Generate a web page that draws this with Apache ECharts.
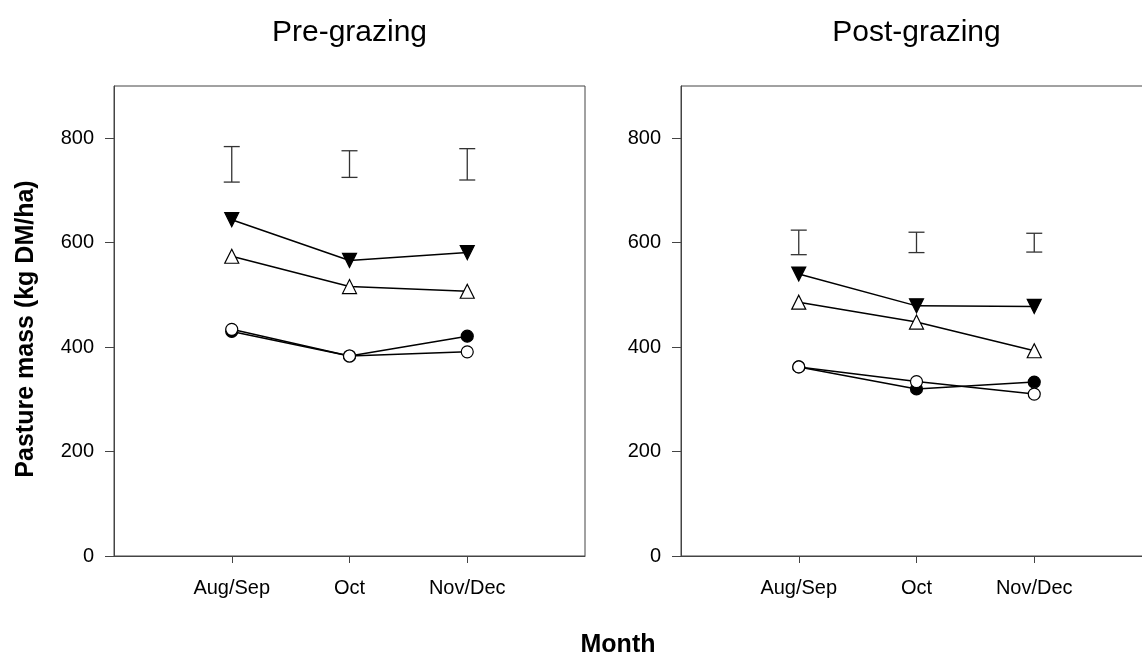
<!DOCTYPE html>
<html>
<head>
<meta charset="utf-8">
<script src="https://cdn.jsdelivr.net/npm/echarts@6/dist/echarts.min.js"></script>
<style>
html,body{margin:0;padding:0;background:#fff;overflow:hidden;width:1142px;height:656px;}
#c{width:1160px;height:656px;}
</style>
</head>
<body>
<div id="c"></div>
<script>
// ---- data ----
const months = ['Aug/Sep', 'Oct', 'Nov/Dec'];
const yTicks = [0, 200, 400, 600, 800];
const panelTitles = ['Pre-grazing', 'Post-grazing'];

// Pre-grazing
const preFilledTri = [644, 566, 581];
const preOpenTri   = [574, 516, 507];
const preFilledCir = [430, 383, 421];
const preOpenCir   = [434, 383, 391];
const preErrLow    = [716, 725, 720];
const preErrHigh   = [784, 776, 780];

// Post-grazing
const postFilledTri = [540, 479, 478];
const postOpenTri   = [486, 448, 393];
const postFilledCir = [362, 320, 333];
const postOpenCir   = [362, 334, 310];
const postErrLow    = [577, 581, 582];
const postErrHigh   = [624, 620, 618];

// ---- chart ----
const FONT = '"Liberation Sans", Arial, sans-serif';
const AX = '#444';
const cats = [''].concat(months, ['']);

function xAxis(gi) {
  return {
    type: 'category', gridIndex: gi, data: cats, boundaryGap: false,
    axisLine: { show: true, lineStyle: { color: AX, width: 1 } },
    axisTick: { show: true, length: 7, lineStyle: { color: AX },
      interval: function (idx) { return idx >= 1 && idx <= months.length; } },
    axisLabel: { interval: 0, margin: 22, color: '#000', fontSize: 20, fontFamily: FONT },
    splitLine: { show: false }
  };
}
function yAxis(gi) {
  return {
    type: 'value', gridIndex: gi, min: 0, max: 900,
    axisLine: { show: true, lineStyle: { color: AX, width: 1 } },
    axisTick: { show: true, length: 9, lineStyle: { color: AX }, customValues: yTicks },
    axisLabel: { margin: 20, color: '#000', fontSize: 20, fontFamily: FONT, customValues: yTicks },
    splitLine: { show: false }
  };
}
function pts(arr) { return arr.map((v, i) => [i + 1, v]); }
function lineSeries(gi, arr, symbol, rotate, fill, size) {
  return {
    type: 'line', xAxisIndex: gi, yAxisIndex: gi, data: pts(arr),
    symbol: symbol, symbolRotate: rotate, symbolSize: size,
    showAllSymbol: true,
    lineStyle: { color: '#000', width: 1.5 },
    itemStyle: { color: fill, borderColor: '#000', borderWidth: 1.2 },
    emphasis: { disabled: true }, animation: false
  };
}
function errSeries(gi, lo, hi) {
  return {
    type: 'custom', xAxisIndex: gi, yAxisIndex: gi,
    data: lo.map((v, i) => [i + 1, v, hi[i]]),
    renderItem: function (params, api) {
      const x = api.value(0);
      const p1 = api.coord([x, api.value(1)]);
      const p2 = api.coord([x, api.value(2)]);
      const hw = 8;
      const st = { stroke: '#333', lineWidth: 1.3 };
      return { type: 'group', children: [
        { type: 'line', shape: { x1: p1[0], y1: p1[1], x2: p2[0], y2: p2[1] }, style: st },
        { type: 'line', shape: { x1: p1[0] - hw, y1: p1[1], x2: p1[0] + hw, y2: p1[1] }, style: st },
        { type: 'line', shape: { x1: p2[0] - hw, y1: p2[1], x2: p2[0] + hw, y2: p2[1] }, style: st }
      ]};
    },
    animation: false
  };
}

const grids = [
  { left: 114, top: 86, width: 471, height: 470 },
  { left: 681, top: 86, width: 471, height: 470 }
].map(g => Object.assign(g, { show: true, borderColor: AX, borderWidth: 1, backgroundColor: 'transparent' }));

const option = {
  backgroundColor: '#fff',
  animation: false,
  grid: grids,
  xAxis: [xAxis(0), xAxis(1)],
  yAxis: [yAxis(0), yAxis(1)],
  series: [
    errSeries(0, preErrLow, preErrHigh),
    lineSeries(0, preFilledCir, 'circle', 0, '#000', 12),
    lineSeries(0, preOpenCir, 'circle', 0, '#fff', 12),
    lineSeries(0, preFilledTri, 'triangle', 180, '#000', 14),
    lineSeries(0, preOpenTri, 'triangle', 0, '#fff', 14),
    errSeries(1, postErrLow, postErrHigh),
    lineSeries(1, postFilledCir, 'circle', 0, '#000', 12),
    lineSeries(1, postOpenCir, 'circle', 0, '#fff', 12),
    lineSeries(1, postFilledTri, 'triangle', 180, '#000', 14),
    lineSeries(1, postOpenTri, 'triangle', 0, '#fff', 14)
  ],
  graphic: [
    { type: 'text', x: 349.5, y: 33, style: { text: panelTitles[0], textAlign: 'center', textVerticalAlign: 'middle', font: '30px ' + FONT, fill: '#000' } },
    { type: 'text', x: 916.5, y: 33, style: { text: panelTitles[1], textAlign: 'center', textVerticalAlign: 'middle', font: '30px ' + FONT, fill: '#000' } },
    { type: 'text', x: 26, y: 329, rotation: Math.PI / 2, style: { text: 'Pasture mass (kg DM/ha)', textAlign: 'center', textVerticalAlign: 'middle', font: 'bold 25px ' + FONT, fill: '#000' } },
    { type: 'text', x: 618, y: 645, style: { text: 'Month', textAlign: 'center', textVerticalAlign: 'middle', font: 'bold 25px ' + FONT, fill: '#000' } }
  ]
};

const chart = echarts.init(document.getElementById('c'), null, { renderer: 'canvas' });
chart.setOption(option);
</script>
</body>
</html>
